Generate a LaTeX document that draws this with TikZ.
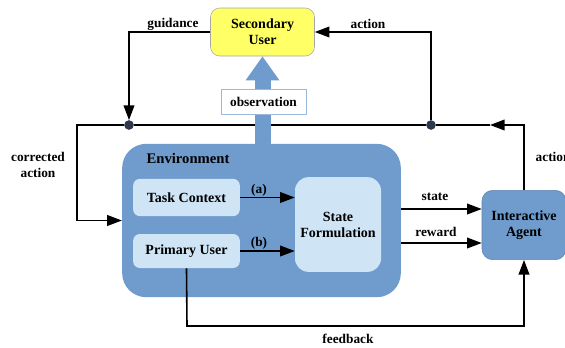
\documentclass[tikz,border=0pt]{standalone}
\usepackage{fontspec}
\setmainfont{Liberation Serif}
\usetikzlibrary{arrows.meta}

\definecolor{envblue}{HTML}{6F9BCD}
\definecolor{boxblue}{HTML}{CFE4F5}
\definecolor{useryellow}{HTML}{FFFF66}
\definecolor{dotgray}{HTML}{2E3A4B}

\tikzset{
	flow/.style={line width=1.2pt,-{Triangle[length=11pt,width=8pt]}},
	wire/.style={line width=1.2pt},
	inbox/.style={draw=none,fill=boxblue,rounded corners=5pt,align=center,font=\bfseries\fontsize{10.5}{12}\selectfont},
	junction/.style={circle,fill=dotgray,inner sep=0pt,minimum size=7pt},
	lbl/.style={font=\bfseries\fontsize{10}{12}\selectfont,align=center}
}

\begin{document}
\begin{tikzpicture}[x=0.75pt,y=-0.75pt]
		\useasboundingbox (0,0) rectangle (565,347);
		
		\node[fill=envblue,rounded corners=18pt,minimum width=209pt,minimum height=115pt] (env) at (261.5,220.5) {};
		\node[lbl,font=\bfseries\fontsize{11}{13}\selectfont] (envlbl) at (188,158) {Environment};
		
		\node[inbox,minimum width=80pt,minimum height=28pt] (task) at (186.5,197.5) {Task Context};
		\node[inbox,minimum width=80pt,minimum height=25.5pt] (pu) at (186.5,251) {Primary User};
		\node[inbox,minimum width=64.5pt,minimum height=71pt,rounded corners=10pt] (sf) at (338,224.5) {State\\Formulation};
		
		\node[fill=envblue,draw=envblue!85!black,rounded corners=8pt,minimum width=63pt,minimum height=52pt,align=center,font=\bfseries\fontsize{10.5}{12}\selectfont] (agent) at (524,225) {Interactive\\Agent};
		\node[fill=useryellow,draw=gray!70,rounded corners=7pt,minimum width=78pt,minimum height=36pt,align=center,font=\bfseries\fontsize{10.5}{12}\selectfont] (su) at (262.5,32) {Secondary\\User};
		
		\coordinate (lc) at (77,125);
		\coordinate (amid) at (490,125);
		\coordinate (fb) at (187,326);
		
		\node[junction] (gdot) at (129,125) {};
		\node[junction] (adot) at (431,125) {};
		
		\draw[wire] (adot) -- (gdot);
		\draw[flow] (gdot) -- (lc) |- (env.west);
		\draw[flow] (agent.north) |- (amid);
		\draw[wire] (amid) -- (adot);
		\draw[flow] (su.west) -| (gdot);
		\draw[flow] (adot) |- (su.east);
		
		\draw[flow] (task.east) -- (task.east -| sf.west);
		\draw[flow] (pu.east) -- (pu.east -| sf.west);
		\draw[flow] (env.east |- 0,209) -- (agent.west |- 0,209);
		\draw[flow] (env.east |- 0,243) -- (agent.west |- 0,243);
		\draw[flow] (pu.south) -- (fb) -| (agent.south);
		
		\draw[envblue,line width=12pt,-{Triangle[length=18pt,width=24pt]}] (env.north -| su.south) -- (su.south);
		\node[draw=envblue!70,fill=white,minimum width=64pt,minimum height=19pt,lbl] (obs) at (263.5,101.5) {observation};
		
		\node[dotgray,junction] at (gdot) {};
		\node[dotgray,junction] at (adot) {};
		
		\node[lbl] (lguid) at (173,24) {guidance};
		\node[lbl] (lact) at (368,24) {action};
		\node[lbl,anchor=west] (lact2) at (531,157) {action};
		\node[lbl] (lcorr) at (38,165) {corrected\\action};
		\node[lbl] (la) at (259,190) {(a)};
		\node[lbl] (lb) at (259,243) {(b)};
		\node[lbl] (lstate) at (435,197) {state};
		\node[lbl] (lreward) at (436,232) {reward};
		\node[lbl] (lfeed) at (348,339) {feedback};
	\end{tikzpicture}
\end{document}
